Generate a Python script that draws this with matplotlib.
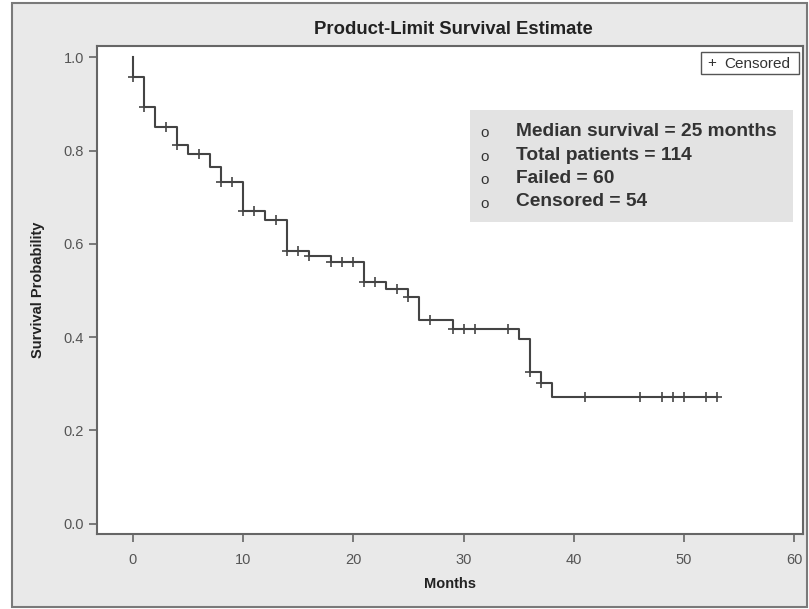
import numpy as np
import matplotlib
matplotlib.use("Agg")
import matplotlib.pyplot as plt
from matplotlib.patches import Rectangle

# ---- data ----
event_times = [0, 1, 2, 4, 5, 7, 8, 10, 12, 14, 16, 18, 21, 23, 25, 26, 29, 35, 36, 37, 38]
event_surv = [0.957, 0.894, 0.850, 0.811, 0.792, 0.764, 0.733, 0.671, 0.650, 0.585,
              0.574, 0.561, 0.519, 0.504, 0.486, 0.436, 0.417, 0.396, 0.326, 0.301, 0.272]
last_time = 53
censor_times = [0, 1, 3, 4, 6, 8, 9, 10, 11, 13, 14, 15, 16, 18, 19, 20, 21, 22, 24, 25,
                27, 29, 30, 31, 34, 36, 37, 41, 46, 48, 49, 50, 52, 53]
x_ticks = [0, 10, 20, 30, 40, 50, 60]
y_ticks = [0.0, 0.2, 0.4, 0.6, 0.8, 1.0]
stats_lines = ["Median survival = 25 months", "Total patients = 114",
               "Failed = 60", "Censored = 54"]
title = "Product-Limit Survival Estimate"
xlabel = "Months"
ylabel = "Survival Probability"

plt.rcParams['font.family'] = ['Liberation Sans', 'DejaVu Sans']

W, H = 809, 609
fig = plt.figure(figsize=(W / 100, H / 100), dpi=100)
fig.patch.set_facecolor('white')

def fx(px):
    return px / W

def fy(py):
    return 1 - py / H

# outer gray frame (behind the axes)
fig.patches.append(Rectangle((fx(12), fy(607)), (807 - 12) / W, (607 - 3) / H,
                             transform=fig.transFigure, facecolor='#e9e9e9',
                             edgecolor='#7a7a7a', lw=1.5, zorder=-10))

ax = fig.add_axes([fx(97), fy(534), (803 - 97) / W, (534 - 46) / H])
ax.set_zorder(1)
ax.set_facecolor('white')

# step curve
xs = [0] + list(event_times) + [last_time]
ys = [1.0] + list(event_surv) + [event_surv[-1]]
ax.step(xs, ys, where='post', color='#444444', lw=1.5, zorder=3)

# censor marks at the curve's value
et = np.array(event_times)
es = np.array(event_surv)
cy = []
for t in censor_times:
    idx = np.searchsorted(et, t, side='right') - 1
    cy.append(es[idx] if idx >= 0 else 1.0)
ax.plot(censor_times, cy, linestyle='none', marker='+', ms=7, mew=1.2,
        color='#444444', zorder=4)

ax.set_xlim(-3.26, 60.8)
ax.set_ylim(-0.022, 1.024)
ax.set_xticks(x_ticks)
ax.set_yticks(y_ticks)
ax.set_xticklabels([str(v) for v in x_ticks])
ax.set_yticklabels([f"{v:.1f}" for v in y_ticks])
ax.tick_params(axis='both', direction='out', length=6, width=1.2, color='#666666',
               labelcolor='#555555', labelsize=10.5)
ax.tick_params(axis='x', pad=8)
for s in ax.spines.values():
    s.set_color('#666666')
    s.set_linewidth(1.5)

ax.set_xlabel(xlabel, fontsize=10.5, fontweight='bold', color='#222222', labelpad=7)
ax.set_ylabel(ylabel, fontsize=10.5, fontweight='bold', color='#222222', labelpad=13)
fig.text(fx(453), fy(30), title, ha='center', va='center', fontsize=13.3,
         fontweight='bold', color='#222222')

# legend box "+ Censored"
fig.patches.append(Rectangle((fx(701), fy(74)), 98 / W, 22 / H, transform=fig.transFigure,
                             facecolor='white', edgecolor='#555555', lw=1.0, zorder=5))
fig.text(fx(712), fy(63.5), "+", ha='center', va='center', fontsize=11, color='#333333', zorder=6)
fig.text(fx(724), fy(63.5), "Censored", ha='left', va='center', fontsize=11,
         color='#333333', zorder=6)

# stats box
fig.patches.append(Rectangle((fx(470), fy(222)), (793 - 470) / W, (222 - 110) / H,
                             transform=fig.transFigure, facecolor='#e3e3e3',
                             edgecolor='none', zorder=5))
line_y = [131, 155, 178.5, 202]
for yy, txt in zip(line_y, stats_lines):
    fig.text(fx(485), fy(yy + 2), "o", ha='center', va='center', fontsize=11,
             color='#333333', zorder=6)
    fig.text(fx(516), fy(yy), txt, ha='left', va='center', fontsize=13.8,
             fontweight='bold', color='#333333', zorder=6)

fig.savefig("out.png", dpi=100)
